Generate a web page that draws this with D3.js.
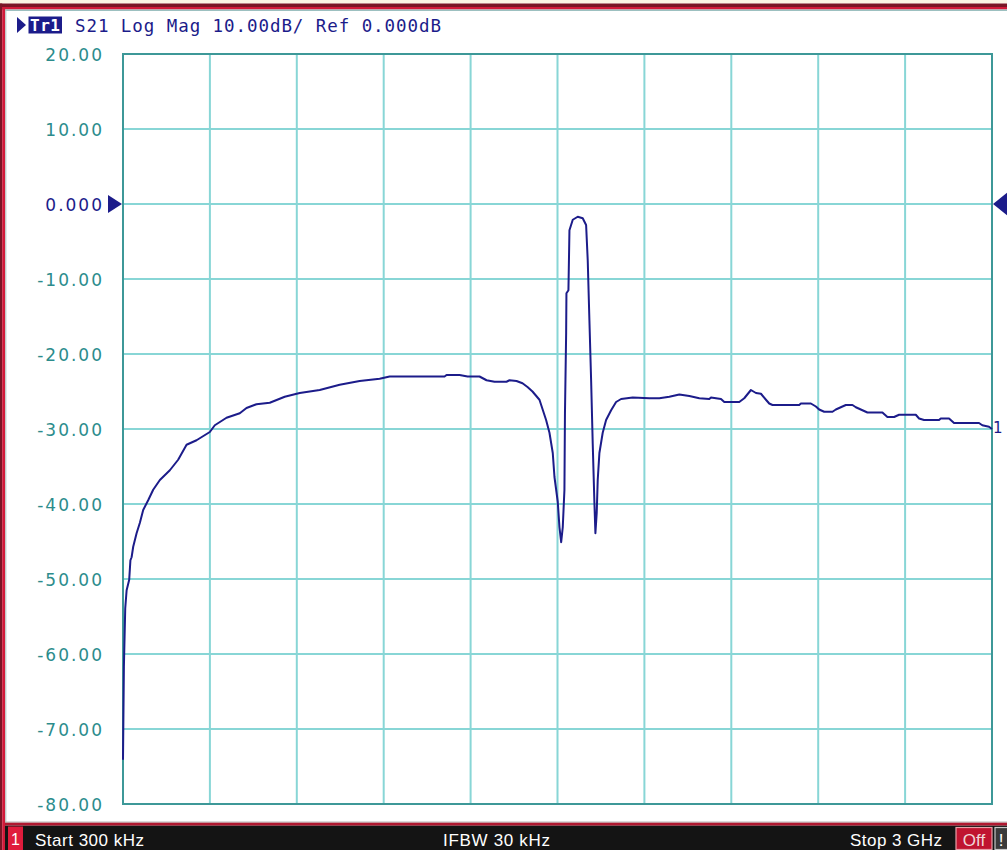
<!DOCTYPE html>
<html><head><meta charset="utf-8">
<script src="https://cdn.jsdelivr.net/npm/d3@7"></script>
<style>html,body{margin:0;padding:0;background:#fff;overflow:hidden}</style>
</head><body>
<svg id="c" width="1007" height="850"></svg>
<script>
// ---- data ----
const startMHz = 0.3, stopMHz = 3000;
const xDivisions = 10;
const yTicks = [20, 10, 0, -10, -20, -30, -40, -50, -60, -70, -80];
const yTickLabels = ["20.00","10.00","0.000","-10.00","-20.00","-30.00","-40.00","-50.00","-60.00","-70.00","-80.00"];
const refLevel = 0;
const headerText = "S21 Log Mag 10.00dB/ Ref 0.000dB";
const statusTexts = ["Start 300 kHz", "IFBW 30 kHz", "Stop 3 GHz"];
const freqMHz = [0.3,3.4,8,12.8,21.7,25.9,30,35.5,47.2,58.6,70,87.2,104.5,127.6,162,190.7,219.7,254.1,300,317.2,357.6,403.4,426.6,461,506.9,558.6,610.3,679.3,748.3,817.2,886.2,920.7,1110.3,1117.2,1162,1189.7,1231,1255.2,1282.8,1324.1,1334.5,1358.6,1379.3,1396.6,1413.8,1437.9,1460.8,1472.4,1483.8,1489.7,1501,1506.9,1512.8,1518.3,1524.1,1525.9,1530,1531,1537.9,1541.4,1552.8,1570,1587.2,1598.9,1604.5,1610.3,1616.2,1621.7,1627.6,1631,1635.5,1639,1644.8,1656.2,1667.9,1685.2,1702.4,1719.7,1759.7,1817.2,1851.7,1886.2,1920.7,1955.2,1989.7,2024.1,2030,2047.2,2064.5,2075.9,2127.6,2144.8,2167.9,2185.2,2202.4,2219.7,2231,2242.4,2334.5,2340.3,2374.8,2392.1,2403.4,2420.7,2449.3,2461,2483.8,2495.5,2518.3,2530,2552.8,2570,2621.7,2639,2662.1,2679.3,2736.9,2748.3,2765.5,2817.2,2823.1,2851.7,2869,2955.2,2966.5,2989.7,3000];
const s21dB = [-74.1,-61.7,-53.9,-51.5,-50.1,-47.5,-47.1,-45.7,-43.9,-42.5,-40.8,-39.5,-38.1,-36.8,-35.5,-34.1,-32.1,-31.5,-30.4,-29.5,-28.5,-27.9,-27.2,-26.7,-26.5,-25.7,-25.2,-24.8,-24.1,-23.6,-23.3,-23.0,-23.0,-22.8,-22.8,-23.0,-23.0,-23.5,-23.7,-23.7,-23.5,-23.6,-23.9,-24.4,-25.0,-26.1,-28.8,-30.5,-33.2,-36.4,-39.7,-43.1,-45.1,-43.1,-38.1,-27.9,-17.2,-11.9,-11.5,-3.5,-2.1,-1.7,-1.9,-2.8,-7.5,-15.5,-23.5,-31.9,-39.9,-43.9,-41.2,-36.8,-33.2,-30.5,-28.8,-27.5,-26.4,-26.0,-25.8,-25.9,-25.9,-25.7,-25.4,-25.6,-25.9,-26.0,-25.8,-25.9,-26.0,-26.4,-26.4,-25.9,-24.8,-25.2,-25.3,-26.1,-26.6,-26.8,-26.8,-26.6,-26.6,-27.0,-27.4,-27.7,-27.7,-27.4,-27.0,-26.8,-26.8,-27.1,-27.5,-27.8,-27.8,-28.4,-28.4,-28.1,-28.1,-28.6,-28.8,-28.8,-28.6,-28.6,-29.2,-29.2,-29.5,-29.7,-30.0];

// ---- layout ----
const W = 1007, H = 850;
const svg = d3.select("#c");
const plot = {l: 123, r: 992, t: 54, b: 804};
const x = d3.scaleLinear().domain([startMHz, stopMHz]).range([plot.l, plot.r]);
const y = d3.scaleLinear().domain([-80, 20]).range([plot.b, plot.t]);

const navy = "#1c1c8a", teal = "#2c8c8c", grid = "#88d6d6", border = "#3d9898";

// frame
svg.append("rect").attr("x",0).attr("y",0).attr("width",W).attr("height",H).attr("fill","#fff");
svg.append("rect").attr("x",0).attr("y",0).attr("width",W).attr("height",3.5).attr("fill","#fbf4e4");
svg.append("rect").attr("x",0).attr("y",3.5).attr("width",W).attr("height",3.5).attr("fill","#7a1526");
svg.append("rect").attr("x",2).attr("y",7).attr("width",W).attr("height",2.5).attr("fill","#d21a3a");
svg.append("rect").attr("x",5).attr("y",9.5).attr("width",W).attr("height",1.5).attr("fill","#9cc0c0");
svg.append("rect").attr("x",0).attr("y",3.5).attr("width",2.2).attr("height",H).attr("fill","#7a1526");
svg.append("rect").attr("x",2.2).attr("y",7).attr("width",3).attr("height",H).attr("fill","#d21a3a");
svg.append("rect").attr("x",5.2).attr("y",9.5).attr("width",1.2).attr("height",813).attr("fill","#b8c8c8");
svg.append("rect").attr("x",5).attr("y",821.5).attr("width",W).attr("height",1.2).attr("fill","#b8b8b8");
svg.append("rect").attr("x",5).attr("y",822.7).attr("width",W).attr("height",3).attr("fill","#b01830");
svg.append("rect").attr("x",5).attr("y",825.7).attr("width",W).attr("height",H-825.7).attr("fill","#141414");

// header
svg.append("path").attr("d","M17,17 L26,25 L17,33 Z").attr("fill",navy);
svg.append("rect").attr("x",28.5).attr("y",16.5).attr("width",33.5).attr("height",17).attr("fill",navy);
svg.append("text").attr("x",45).attr("y",31).attr("text-anchor","middle")
  .attr("font-family","DejaVu Sans Mono").attr("font-weight","bold").attr("font-size",16)
  .attr("fill","#fff").attr("textLength",30).text("Tr1");
svg.append("text").attr("x",75).attr("y",32)
  .attr("font-family","DejaVu Sans Mono").attr("font-size",17.5).attr("fill",navy)
  .attr("textLength",366).attr("lengthAdjust","spacing").text(headerText);

// grid
const g = svg.append("g");
const xDivs = d3.range(xDivisions + 1).map(i => startMHz + i * (stopMHz - startMHz) / xDivisions);
g.selectAll("line.v").data(xDivs.slice(1, -1)).join("line")
  .attr("x1", d => x(d)).attr("x2", d => x(d)).attr("y1", plot.t).attr("y2", plot.b)
  .attr("stroke", grid).attr("stroke-width", 2);
g.selectAll("line.h").data(yTicks.slice(1, -1)).join("line")
  .attr("x1", plot.l).attr("x2", plot.r).attr("y1", d => y(d)).attr("y2", d => y(d))
  .attr("stroke", grid).attr("stroke-width", 2);
g.append("rect").attr("x", plot.l).attr("y", plot.t).attr("width", plot.r - plot.l).attr("height", plot.b - plot.t)
  .attr("fill","none").attr("stroke", border).attr("stroke-width", 2);

// y labels
svg.append("g").selectAll("text").data(yTicks).join("text")
  .attr("x", 104).attr("y", d => y(d) + 6.5).attr("text-anchor","end")
  .attr("font-family","DejaVu Sans").attr("font-size",17).attr("letter-spacing",2)
  .attr("fill", d => d === refLevel ? navy : teal)
  .text((d, i) => yTickLabels[i]);

// ref markers
svg.append("path").attr("d", `M108,${y(refLevel)-9} L122,${y(refLevel)} L108,${y(refLevel)+9} Z`).attr("fill", navy);
svg.append("path").attr("d", `M1008,${y(refLevel)-12} L993,${y(refLevel)} L1008,${y(refLevel)+12} Z`).attr("fill", navy);

// trace
const pts = freqMHz.map((f, i) => [f, s21dB[i]]);
const line = d3.line().x(d => x(d[0])).y(d => y(d[1])).curve(d3.curveLinear);
svg.append("path").datum(pts).attr("d", line).attr("fill","none")
  .attr("stroke", navy).attr("stroke-width", 2).attr("stroke-linejoin","round");
const last = pts[pts.length - 1];
svg.append("text").attr("x", x(last[0]) + 1).attr("y", y(last[1]) + 4)
  .attr("font-family","DejaVu Sans").attr("font-size",15).attr("fill", navy).text("1");

// status bar
svg.append("rect").attr("x",8).attr("y",826.5).attr("width",15).attr("height",23.5).attr("fill","#e01c3c");
svg.append("text").attr("x",15.5).attr("y",845).attr("text-anchor","middle")
  .attr("font-family","Liberation Sans").attr("font-size",16).attr("fill","#fff").text("1");
const st = svg.append("g").attr("font-family","Liberation Sans").attr("font-size",17).attr("fill","#fff");
st.append("text").attr("x",35).attr("y",846).attr("textLength",109).text(statusTexts[0]);
st.append("text").attr("x",443).attr("y",846).attr("textLength",107).text(statusTexts[1]);
st.append("text").attr("x",850).attr("y",846).attr("textLength",92).text(statusTexts[2]);
svg.append("rect").attr("x",956).attr("y",827.5).attr("width",36).attr("height",22).attr("fill","#c01430").attr("stroke","#e8a0a8").attr("stroke-width",1.2);
svg.append("text").attr("x",974).attr("y",846).attr("text-anchor","middle")
  .attr("font-family","Liberation Sans").attr("font-size",17).attr("fill","#f0d8d8").text("Off");
svg.append("rect").attr("x",995).attr("y",827.5).attr("width",14).attr("height",22).attr("fill","#3a3a3a").attr("stroke","#c8c8c8").attr("stroke-width",1.2);
svg.append("text").attr("x",1001).attr("y",846).attr("text-anchor","middle")
  .attr("font-family","Liberation Sans").attr("font-size",17).attr("fill","#fff").text("!");
</script>
</body></html>
